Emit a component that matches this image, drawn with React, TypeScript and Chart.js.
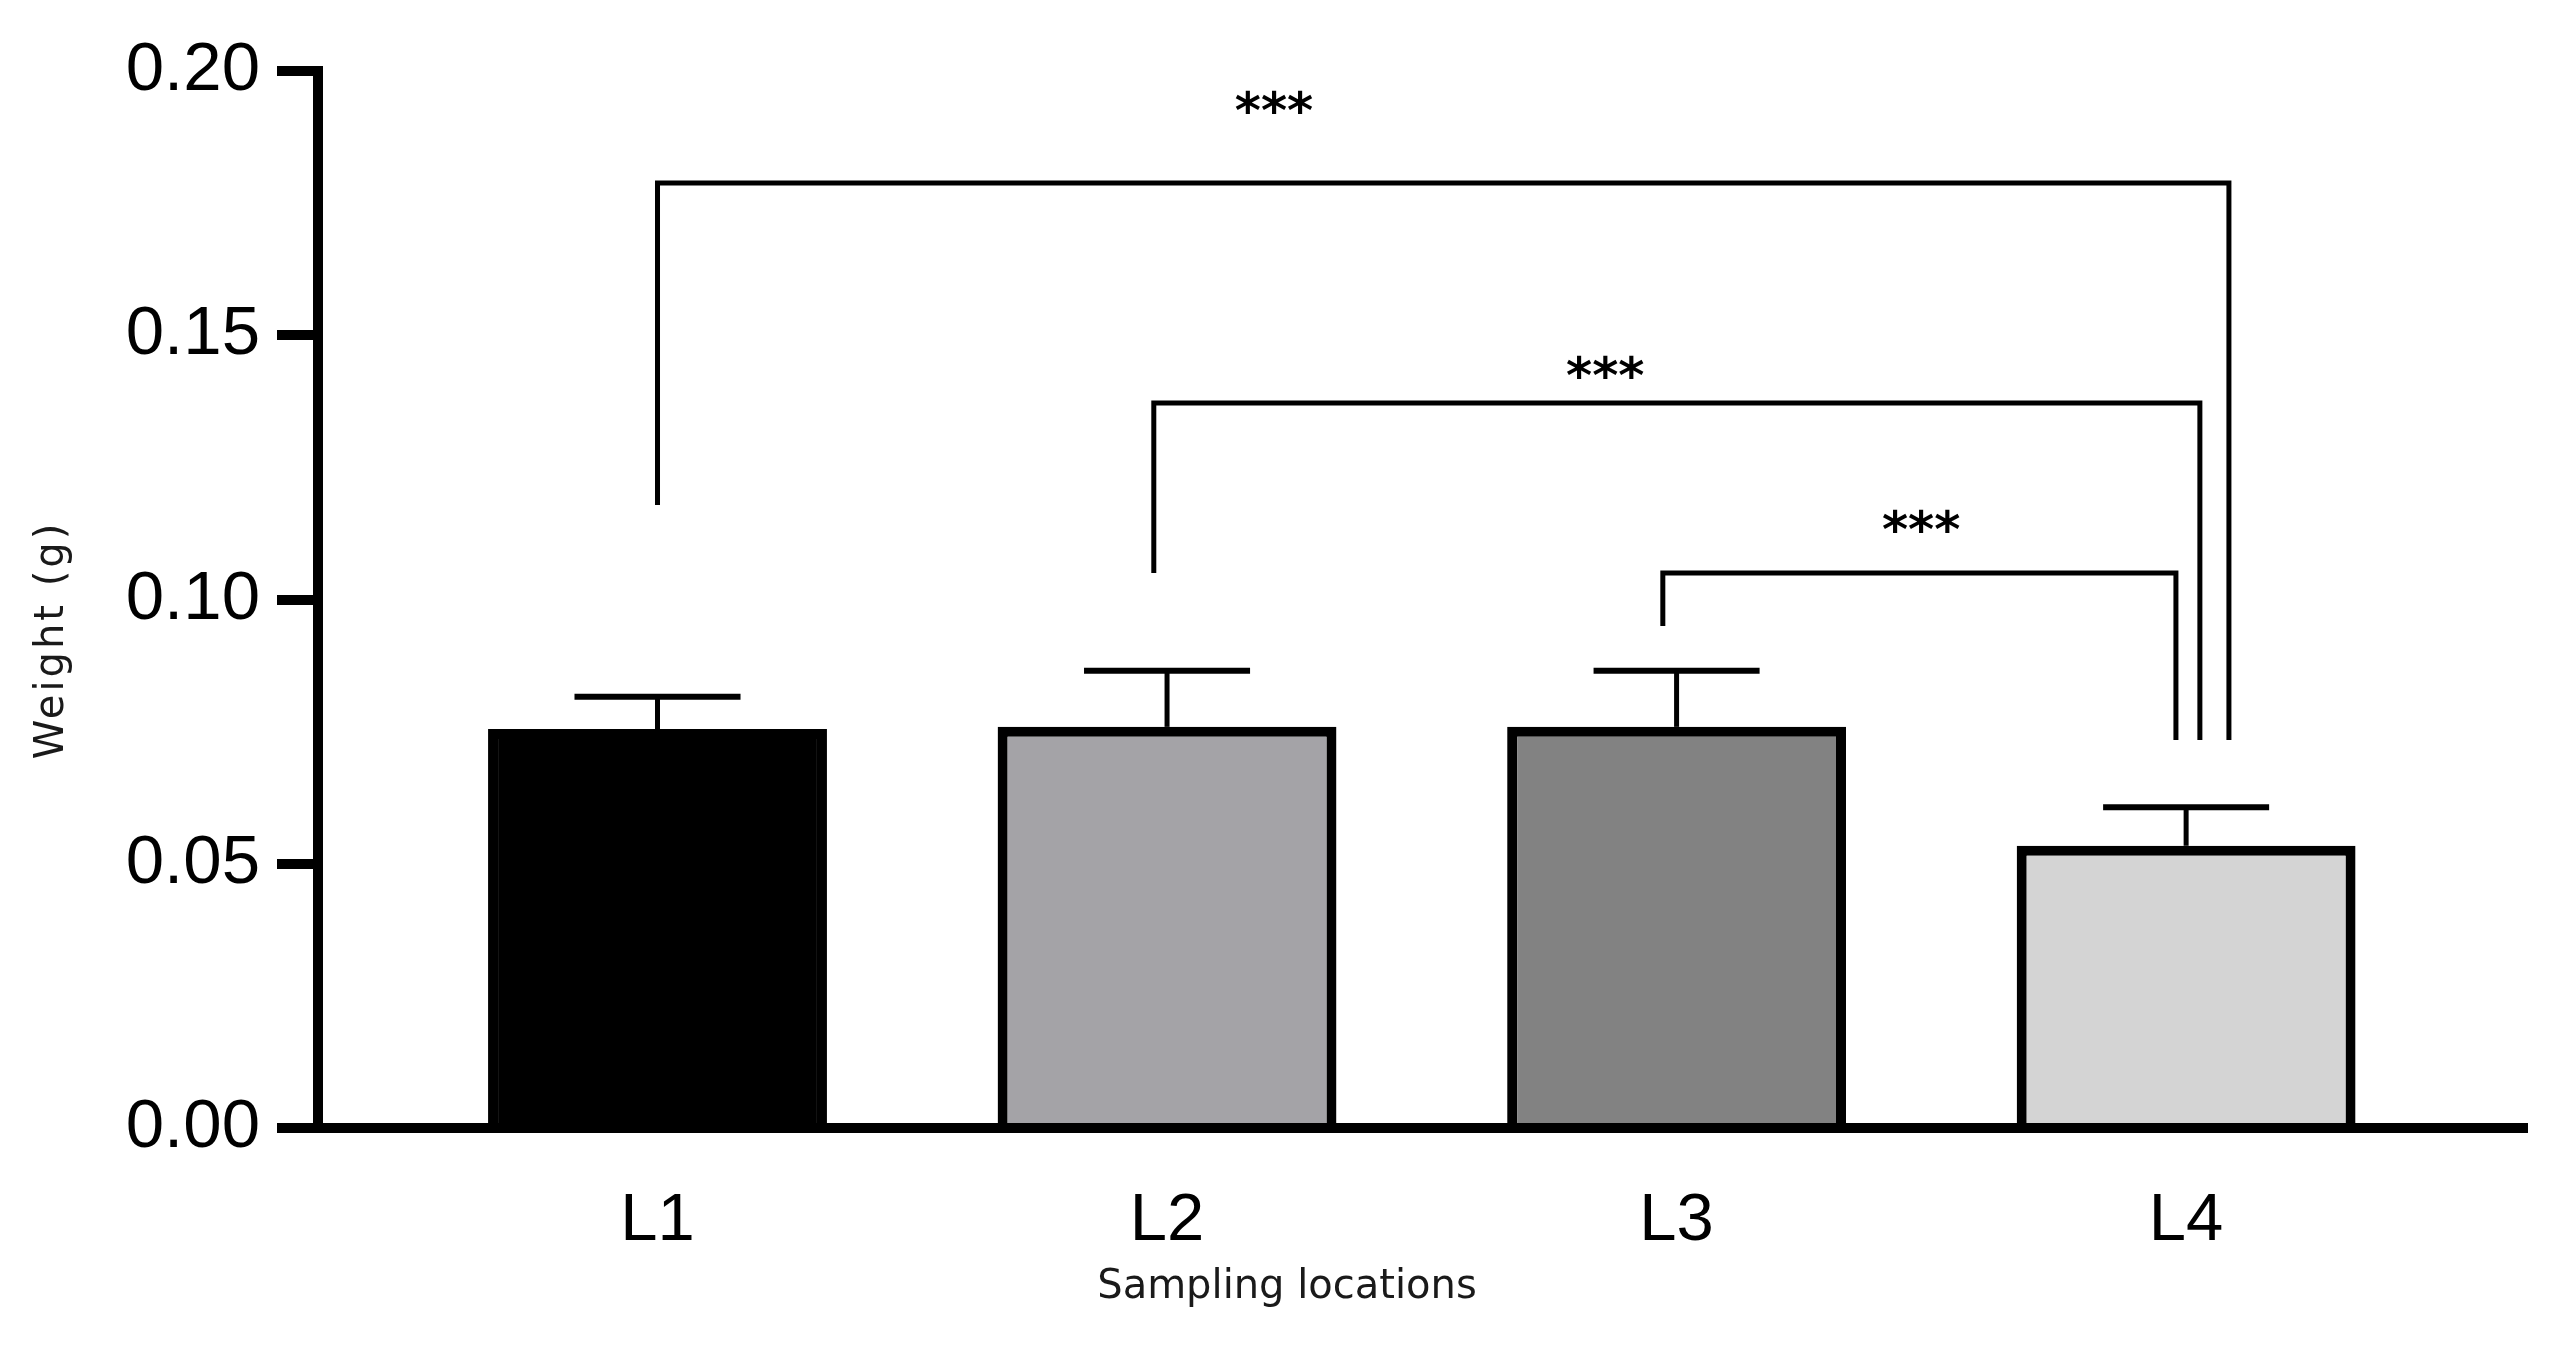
import React, { useEffect, useRef } from "react";
import { Chart, registerables } from "chart.js";

Chart.register(...registerables);

// ---- data ----
const categories = ["L1", "L2", "L3", "L4"];
const positions = [1, 2, 3, 4];
const means = [0.0755, 0.0759, 0.0759, 0.0534];
const sds = [0.0061, 0.0106, 0.0106, 0.0073];
const barColors = ["#000000", "#a4a3a7", "#828282", "#d4d4d4"];
const yTicks = [0, 0.05, 0.1, 0.15, 0.2];

// significance brackets (x in category units, y in weight units)
const bracketStartX = [1.0, 1.974, 2.973];
const bracketEndX = [4.084, 4.027, 3.98];
const bracketTopY = [0.1788, 0.1372, 0.105];
const bracketStartBottomY = [0.1179, 0.105, 0.095];
const bracketEndBottomY = [0.0734, 0.0734, 0.0734];
const bracketLabels = ["***", "***", "***"];
const bracketLabelX = [2.21, 2.86, 3.48];
const bracketLabelY = [0.1941, 0.144, 0.1149];

const xTitle = "Sampling locations";
const yTitle = "Weight (g)";

const ARIAL = "'Liberation Sans', Arial, Helvetica, sans-serif";
const DEJAVU = "'DejaVu Sans', Verdana, sans-serif";

const annotate = {
  id: "annotate",
  afterDatasetsDraw(chart: any) {
    const { ctx } = chart;
    const x = chart.scales.x;
    const y = chart.scales.y;
    const meta = chart.getDatasetMeta(0);
    ctx.save();
    ctx.strokeStyle = "#000";
    ctx.fillStyle = "#000";
    ctx.lineCap = "butt";
    // error bars (upper only)
    positions.forEach((p, i) => {
      const cx = x.getPixelForValue(p);
      const top = y.getPixelForValue(means[i]);
      const cap = y.getPixelForValue(means[i] + sds[i]);
      const bw = meta.data[i] ? meta.data[i].width : 339;
      const half = bw * 0.245;
      ctx.lineWidth = 5;
      ctx.beginPath();
      ctx.moveTo(cx, top);
      ctx.lineTo(cx, cap);
      ctx.stroke();
      ctx.lineWidth = 6;
      ctx.beginPath();
      ctx.moveTo(cx - half, cap);
      ctx.lineTo(cx + half, cap);
      ctx.stroke();
    });
    // brackets
    ctx.lineWidth = 5;
    ctx.lineJoin = "miter";
    bracketStartX.forEach((sx, i) => {
      const x1 = x.getPixelForValue(sx);
      const x2 = x.getPixelForValue(bracketEndX[i]);
      const yt = y.getPixelForValue(bracketTopY[i]);
      ctx.beginPath();
      ctx.moveTo(x1, y.getPixelForValue(bracketStartBottomY[i]));
      ctx.lineTo(x1, yt);
      ctx.lineTo(x2, yt);
      ctx.lineTo(x2, y.getPixelForValue(bracketEndBottomY[i]));
      ctx.stroke();
      ctx.font = `bold 50px ${DEJAVU}`;
      ctx.textAlign = "center";
      ctx.textBaseline = "alphabetic";
      const m = ctx.measureText(bracketLabels[i]);
      const cy = y.getPixelForValue(bracketLabelY[i]);
      const base = cy + (m.actualBoundingBoxAscent - m.actualBoundingBoxDescent) / 2;
      ctx.fillText(bracketLabels[i], x.getPixelForValue(bracketLabelX[i]), base);
    });
    // axis titles
    ctx.fillStyle = "#1a1a1a";
    ctx.font = `40px ${DEJAVU}`;
    ctx.textAlign = "center";
    ctx.textBaseline = "alphabetic";
    ctx.fillText(xTitle, 1287, 1298);
    ctx.save();
    ctx.translate(63, 640);
    ctx.rotate(-Math.PI / 2);
    try {
      (ctx as any).letterSpacing = "3px";
    } catch (e) {}
    ctx.fillText(yTitle, 0, 0);
    ctx.restore();
    ctx.restore();
  },
};

export default function App() {
  const ref = useRef<HTMLCanvasElement>(null);
  useEffect(() => {
    if (!ref.current) return;
    const chart = new Chart(ref.current, {
      type: "bar",
      data: {
        datasets: [
          {
            data: positions.map((p, i) => ({ x: p, y: means[i] })),
            backgroundColor: barColors,
            borderColor: "#000",
            borderWidth: 10,
            borderSkipped: "start",
            barPercentage: 0.665,
            categoryPercentage: 1,
          } as any,
        ],
      },
      options: {
        animation: false,
        responsive: true,
        maintainAspectRatio: false,
        devicePixelRatio: 1,
        layout: { padding: { top: 71, right: 28, left: 0, bottom: 0 } },
        plugins: {
          legend: { display: false },
          tooltip: { enabled: false },
        },
        scales: {
          x: {
            type: "linear",
            offset: false,
            min: 0.3337,
            max: 4.669,
            z: 1,
            afterBuildTicks: (s: any) => {
              s.ticks = positions.map((v) => ({ value: v }));
            },
            afterFit: (s: any) => {
              s.height = 218;
            },
            grid: { display: false, drawTicks: false, offset: false },
            border: { display: true, width: 10, color: "#000" },
            ticks: {
              padding: 53,
              color: "#000",
              font: { family: ARIAL, size: 67 },
              maxRotation: 0,
              autoSkip: false,
              callback: (v: any) => {
                const k = positions.indexOf(Number(v));
                return k >= 0 ? categories[k] : "";
              },
            },
          },
          y: {
            min: 0,
            max: 0.2,
            z: 1,
            afterBuildTicks: (s: any) => {
              s.ticks = yTicks.map((v) => ({ value: v }));
            },
            afterFit: (s: any) => {
              s.width = 318;
            },
            grid: {
              display: true,
              drawOnChartArea: false,
              drawTicks: true,
              tickLength: 41,
              lineWidth: 10,
              color: "#000",
            },
            border: { display: true, width: 10, color: "#000" },
            ticks: {
              padding: 17,
              color: "#000",
              font: { family: ARIAL, size: 69 },
              callback: (v: any) => Number(v).toFixed(2),
            },
          },
        },
      } as any,
      plugins: [annotate],
    });
    return () => chart.destroy();
  }, []);
  return (
    <div
      style={{
        position: "fixed",
        left: 0,
        top: 0,
        width: 2555,
        height: 1346,
        background: "#fff",
      }}
    >
      <canvas ref={ref} style={{ display: "block" }} />
    </div>
  );
}
